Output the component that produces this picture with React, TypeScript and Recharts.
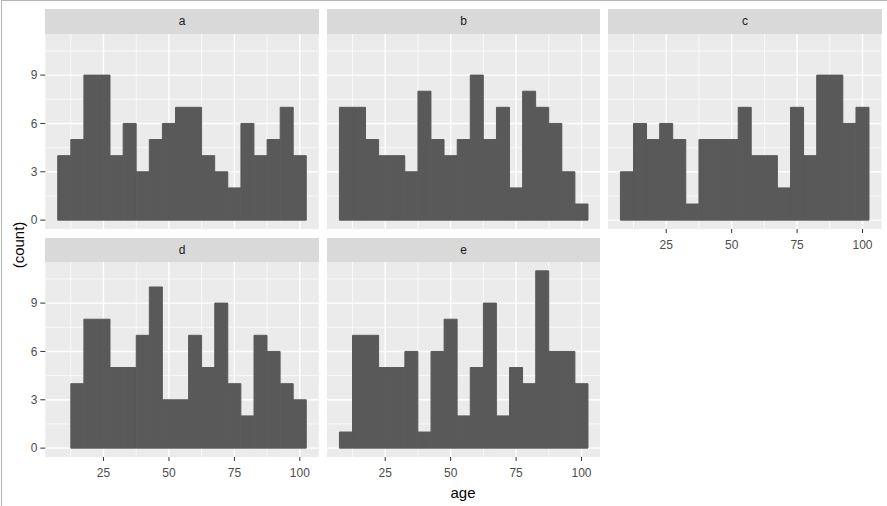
import React from 'react';
import { BarChart, Bar, XAxis, YAxis, CartesianGrid } from 'recharts';

// histogram bins (centre of each 5-year bin)
const ageBins = [10, 15, 20, 25, 30, 35, 40, 45, 50, 55, 60, 65, 70, 75, 80, 85, 90, 95, 100];

const countsA = [4, 5, 9, 9, 4, 6, 3, 5, 6, 7, 7, 4, 3, 2, 6, 4, 5, 7, 4];
const countsB = [7, 7, 5, 4, 4, 3, 8, 5, 4, 5, 9, 5, 7, 2, 8, 7, 6, 3, 1];
const countsC = [3, 6, 5, 6, 5, 1, 5, 5, 5, 7, 4, 4, 2, 7, 4, 9, 9, 6, 7];
const countsD = [0, 4, 8, 8, 5, 5, 7, 10, 3, 3, 7, 5, 9, 4, 2, 7, 6, 4, 3];
const countsE = [1, 7, 7, 5, 5, 6, 1, 6, 8, 2, 5, 9, 2, 5, 4, 11, 6, 6, 4];

const xTicks = [25, 50, 75, 100];
const yTicks = [0, 3, 6, 9];
const xMinor = [12.5, 37.5, 62.5, 87.5];
const yMinor = [1.5, 4.5, 7.5, 10.5];

const X_DOMAIN: [number, number] = [2.75, 107.25];
const Y_DOMAIN: [number, number] = [-0.55, 11.55];

const PANEL_W = 273.5;
const STRIP_H = 24.5;
const PLOT_H = 195;
const COL_LEFT = [45.3, 326.8, 608.3];
const ROW_TOP = [9, 237.5];
const Y_AXIS_W = 45.3;
const X_AXIS_H = 30;

const FONT = '"Liberation Sans", Arial, sans-serif';

type FacetProps = {
  name: string;
  counts: number[];
  left: number;
  top: number;
  showX: boolean;
  showY: boolean;
};

function Facet({ name, counts, left, top, showX, showY }: FacetProps) {
  const data = ageBins.map((age, i) => ({ age, count: counts[i] }));
  const yw = showY ? Y_AXIS_W : 0;
  const xh = showX ? X_AXIS_H : 0;

  return (
    <>
      <div
        style={{
          position: 'absolute',
          left,
          top,
          width: PANEL_W,
          height: STRIP_H,
          background: '#d9d9d9',
          color: '#1a1a1a',
          fontSize: 12,
          lineHeight: STRIP_H + 'px',
          textAlign: 'center',
        }}
      >
        {name}
      </div>
      <div style={{ position: 'absolute', left: left - yw, top: top + STRIP_H }}>
        <BarChart
          width={PANEL_W + yw}
          height={PLOT_H + xh}
          data={data}
          margin={{ top: 0, right: 0, bottom: 0, left: 0 }}
          barCategoryGap={0}
          barGap={0}
        >
          {/* minor grid + panel background */}
          <CartesianGrid
            fill="#ebebeb"
            fillOpacity={1}
            stroke="#ffffff"
            strokeWidth={0.7}
            horizontalValues={yMinor}
            verticalValues={xMinor}
          />
          {/* major grid */}
          <CartesianGrid stroke="#ffffff" strokeWidth={1.4} horizontalValues={yTicks} verticalValues={xTicks} />
          <XAxis
            dataKey="age"
            type="number"
            domain={X_DOMAIN}
            allowDataOverflow
            ticks={xTicks}
            hide={!showX}
            height={X_AXIS_H}
            axisLine={false}
            tickSize={4}
            tickMargin={7}
            tickLine={{ stroke: '#333333' }}
            tick={{ fill: '#4d4d4d', fontSize: 12 }}
          />
          <YAxis
            type="number"
            domain={Y_DOMAIN}
            allowDataOverflow
            ticks={yTicks}
            hide={!showY}
            width={Y_AXIS_W}
            axisLine={false}
            tickSize={5}
            tickMargin={3}
            tickLine={{ stroke: '#333333' }}
            tick={{ fill: '#4d4d4d', fontSize: 12 }}
          />
          <Bar
            dataKey="count"
            fill="#595959"
            stroke="#595959"
            strokeWidth={1}
            isAnimationActive={false}
          />
        </BarChart>
      </div>
    </>
  );
}

export default function App() {
  return (
    <div
      style={{
        position: 'absolute',
        left: 0,
        top: 0,
        width: 887,
        height: 506,
        background: '#ffffff',
        fontFamily: FONT,
        overflow: 'hidden',
      }}
    >
      <div
        style={{
          position: 'absolute',
          left: 1,
          top: 0,
          width: 886,
          height: 506,
          borderTop: '1px solid #b4b4b4',
          borderLeft: '1px solid #b4b4b4',
          boxSizing: 'border-box',
        }}
      />
      <Facet name="a" counts={countsA} left={COL_LEFT[0]} top={ROW_TOP[0]} showX={false} showY />
      <Facet name="b" counts={countsB} left={COL_LEFT[1]} top={ROW_TOP[0]} showX={false} showY={false} />
      <Facet name="c" counts={countsC} left={COL_LEFT[2]} top={ROW_TOP[0]} showX showY={false} />
      <Facet name="d" counts={countsD} left={COL_LEFT[0]} top={ROW_TOP[1]} showX showY />
      <Facet name="e" counts={countsE} left={COL_LEFT[1]} top={ROW_TOP[1]} showX showY={false} />
      <div
        style={{
          position: 'absolute',
          left: 18,
          top: 245,
          transform: 'translate(-50%, -50%) rotate(-90deg)',
          fontSize: 15,
          color: '#000000',
          whiteSpace: 'nowrap',
        }}
      >
        (count)
      </div>
      <div
        style={{
          position: 'absolute',
          left: 463,
          top: 491.5,
          transform: 'translate(-50%, -50%)',
          fontSize: 15,
          color: '#000000',
        }}
      >
        age
      </div>
    </div>
  );
}
